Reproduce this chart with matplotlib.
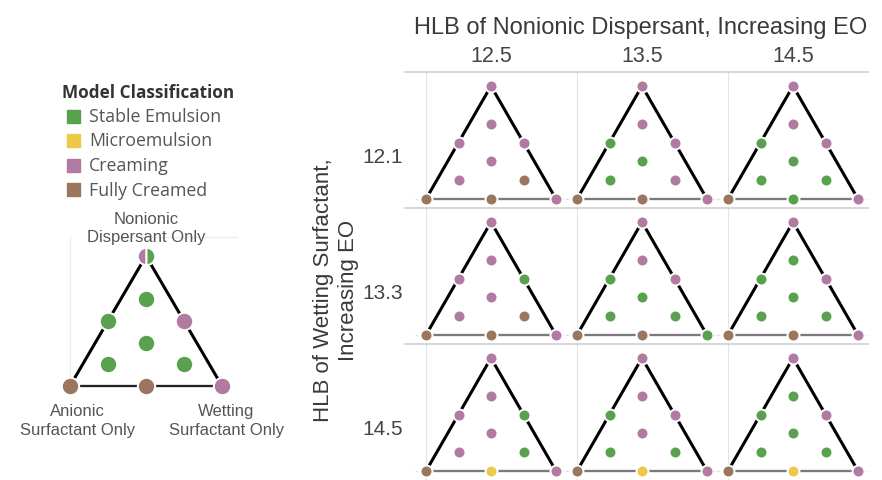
import matplotlib.pyplot as plt
from matplotlib.patches import Rectangle

# Model classes and colours
categories = ['Stable Emulsion', 'Microemulsion', 'Creaming', 'Fully Creamed']
codes = ['S', 'M', 'C', 'F']
colors = {'S': '#59A14F', 'M': '#EDC948', 'C': '#B07AA1', 'F': '#9C755F'}

# Mixture design points (fractions of each surfactant)
nonionic = [1, 2/3, 1/2, 1/2, 1/3, 1/6, 1/6, 0, 0, 0]
anionic = [0, 1/6, 1/2, 0, 1/3, 2/3, 1/6, 1, 1/2, 0]
wetting = [0, 1/6, 0, 1/2, 1/3, 1/6, 2/3, 0, 1/2, 1]

# HLB levels
hlb_dispersant = ['12.5', '13.5', '14.5']
hlb_wetting = ['12.1', '13.3', '14.5']

# Classification of each design point, rows = wetting HLB, cols = dispersant HLB
results = [
    ['CCCCCCFFFC', 'CCSCSSCFFC', 'CCSCSSSFSC'],
    ['CCCSCCFFFC', 'CCSCSSSFFS', 'CSSCSSSFFC'],
    ['CCCSCCSFMC', 'CCSCCSSFMC', 'CSSCSSSFMC'],
]
# key triangle (apex is split creaming / stable)
key_result = 'XSSCSSSFFC'

# ternary -> cartesian
xs = [w + n / 2 for n, w in zip(nonionic, wetting)]
ys = list(nonionic)

W, H = 882, 481
fig = plt.figure(figsize=(W / 100, H / 100), dpi=100)
FONT = 'Liberation Sans'


def px_axes(left, top, width, height):
    return fig.add_axes([left / W, 1 - (top + height) / H, width / W, height / H])


def draw_triangle(ax, res, ms, lw, bottom_col):
    ax.plot([0, 0.5, 1], [0, 1, 0], color='black', lw=lw, zorder=2, solid_capstyle='butt')
    ax.plot([0, 1], [0, 0], color=bottom_col, lw=lw * 0.75, zorder=2)
    for x, y, c in zip(xs, ys, res):
        if c == 'X':
            ax.plot(x, y, 'o', ms=ms, fillstyle='left', color=colors['C'],
                    markerfacecoloralt=colors['S'], mec='white', mew=1.4, zorder=3)
        else:
            ax.plot(x, y, 'o', ms=ms, color=colors[c], mec='white', mew=1.4, zorder=3)


# grid of panes
col_x0 = [426, 577, 728]
row_y0 = [200, 336, 472]
sx, sy = 130, 113
for r in range(3):
    for c in range(3):
        ax = px_axes(col_x0[c] - 0.085 * sx, row_y0[r] - 1.124 * sy, 1.17 * sx, 1.204 * sy)
        ax.set_xlim(-0.085, 1.085)
        ax.set_ylim(-0.08, 1.124)
        ax.axis('off')
        ax.axvline(0, color='#e4e4e4', lw=0.8, zorder=0)
        ax.axhline(0, color='#d8d8d8', lw=0.8, ls=(0, (2, 2)), zorder=0)
        draw_triangle(ax, results[r][c], 8.6, 2.2, '#7a7a7a')
        if r == 0:
            ax.text(0.5, 1.27, hlb_dispersant[c], ha='center', va='center',
                    fontsize=15.5, color='#444444', family=FONT)
        if c == 0:
            ax.text(-0.18, 0.38, hlb_wetting[r], ha='right', va='center',
                    fontsize=15, color='#444444', family=FONT)

# separators
for yline in [73, 209, 345]:
    fig.add_artist(plt.Line2D([405 / W, 868 / W], [1 - yline / H] * 2,
                              color='#d0d0d0', lw=1.2))

fig.text(641 / W, 1 - 28 / H, 'HLB of Nonionic Dispersant, Increasing EO',
         ha='center', va='center', fontsize=17, color='#3a3a3a', family=FONT)
fig.text(336 / W, 1 - 290 / H, 'HLB of Wetting Surfactant,\nIncreasing EO',
         ha='center', va='center', rotation=90, fontsize=16, color='#3a3a3a',
         family=FONT, linespacing=1.2)

# key triangle
kax = px_axes(70 - 0.3 * 152, 257 - 0.35 * 130, 1.6 * 152, 1.7 * 130)
kax.set_xlim(-0.3, 1.3)
kax.set_ylim(-0.35, 1.35)
kax.axis('off')
kax.plot([0, 0], [0, 1.15], color='#ececec', lw=0.8, zorder=0)
kax.plot([0.3, 1.1], [1.15, 1.15], color='#ececec', lw=0.8, zorder=0)
draw_triangle(kax, key_result, 12.5, 2.2, '#222222')
kax.text(0.5, 1.22, 'Nonionic\nDispersant Only', ha='center', va='center',
         fontsize=12, color='#555555', family=FONT, linespacing=1.3)
kax.text(0.05, -0.26, 'Anionic\nSurfactant Only', ha='center', va='center',
         fontsize=12, color='#555555', family=FONT, linespacing=1.3)
kax.text(1.03, -0.26, 'Wetting\nSurfactant Only', ha='center', va='center',
         fontsize=12, color='#555555', family=FONT, linespacing=1.3)

# legend
fig.text(62 / W, 1 - 93 / H, 'Model Classification', ha='left', va='center',
         fontsize=12.3, fontweight='bold', color='#333333', family='Open Sans')
for i, (lab, code) in enumerate(zip(categories, codes)):
    yc = 117 + i * 24.5
    fig.add_artist(Rectangle((67 / W, 1 - (yc + 6.5) / H), 13 / W, 13 / H,
                             color=colors[code], transform=fig.transFigure))
    fig.text(89 / W, 1 - yc / H, lab, ha='left', va='center',
             fontsize=12.8, color='#555555', family='Open Sans')

fig.savefig('out.png', dpi=100)
